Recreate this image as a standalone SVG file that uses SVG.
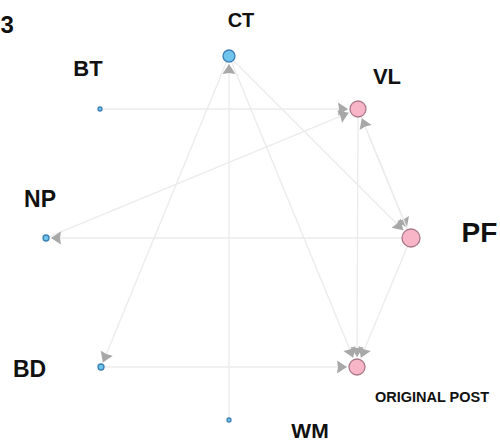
<svg xmlns="http://www.w3.org/2000/svg" width="500" height="441" viewBox="0 0 500 441">
  <style>
    .edge { stroke: #ebebeb; stroke-width: 1.3; fill: none; marker-end: url(#arrow); }
    .blue { fill: #6fc4ec; stroke: #3b7fb3; stroke-width: 1.3; }
    .pink { fill: #f8b5c7; stroke: #a9798a; stroke-width: 1.3; }
    .label { font-family: "Liberation Sans", Arial, sans-serif; font-weight: bold; fill: #111; text-anchor: middle; }
  </style>
  <defs>
    <marker id="arrow" viewBox="-12 -8 14 16" refX="0" refY="0" markerWidth="14" markerHeight="16" markerUnits="userSpaceOnUse" orient="auto">
      <path d="M0,0 L-10,-6.5 L-9,0 L-10,6.5 Z" fill="#a8a8a8"/>
    </marker>
  </defs>
  <rect width="500" height="441" fill="#fff"/>

  <text class="label" x="0.5" y="33" font-size="24" style="text-anchor:start">3</text>

  <g id="connectors">
    <line class="edge" x1="102" y1="109" x2="348" y2="109"/>
    <line class="edge" x1="48.8" y1="236.9" x2="348.8" y2="112.8"/>
    <line class="edge" x1="402" y1="238" x2="51" y2="238"/>
    <line class="edge" x1="229" y1="418" x2="229" y2="64"/>
    <line class="edge" x1="226.7" y1="61.5" x2="102.9" y2="362.4"/>
    <line class="edge" x1="233.2" y1="60.2" x2="403.2" y2="230.2"/>
    <line class="edge" x1="231.3" y1="61.5" x2="353.2" y2="357.8"/>
    <line class="edge" x1="361" y1="116.4" x2="406.8" y2="227.8"/>
    <line class="edge" x1="407.6" y1="229.7" x2="361.8" y2="118.3"/>
    <line class="edge" x1="358" y1="117" x2="357" y2="357"/>
    <line class="edge" x1="407.5" y1="246.3" x2="360.9" y2="357.8"/>
    <line class="edge" x1="104" y1="367" x2="347" y2="367"/>
  </g>

  <g id="CT">
    <circle class="blue" cx="229" cy="56" r="6"/>
    <text class="label" x="241" y="27" font-size="20">CT</text>
  </g>
  <g id="BT">
    <circle class="blue" cx="100" cy="109" r="2"/>
    <text class="label" x="88" y="76" font-size="22">BT</text>
  </g>
  <g id="VL">
    <circle class="pink" cx="358" cy="109" r="8"/>
    <text class="label" x="387" y="84" font-size="22">VL</text>
  </g>
  <g id="NP">
    <circle class="blue" cx="46" cy="238" r="3"/>
    <text class="label" x="40" y="207" font-size="23">NP</text>
  </g>
  <g id="PF">
    <circle class="pink" cx="411" cy="238" r="9"/>
    <text class="label" x="479.5" y="242" font-size="28">PF</text>
  </g>
  <g id="BD">
    <circle class="blue" cx="101" cy="367" r="3"/>
    <text class="label" x="29.5" y="377" font-size="23">BD</text>
  </g>
  <g id="OP">
    <circle class="pink" cx="357" cy="367" r="8"/>
    <text class="label" x="432" y="402" font-size="14.5">ORIGINAL POST</text>
  </g>
  <g id="WM">
    <circle class="blue" cx="229" cy="420" r="2"/>
    <text class="label" x="310" y="438" font-size="21">WM</text>
  </g>
</svg>
